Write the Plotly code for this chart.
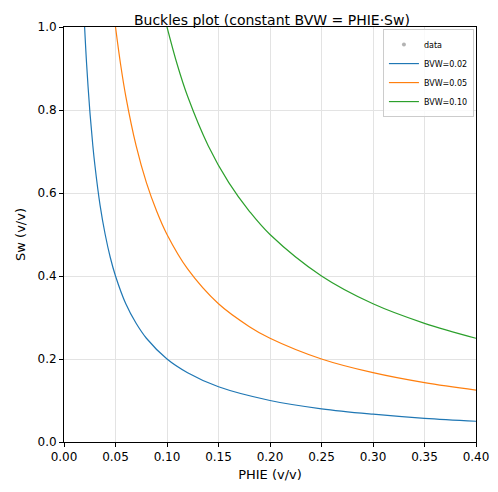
import plotly.graph_objects as go

# Values
phie_002 = [0.020, 0.022, 0.025, 0.028, 0.030, 0.035, 0.040, 0.045, 0.050, 0.060, 0.070, 0.080, 0.100, 0.120, 0.150, 0.200, 0.250, 0.300, 0.350, 0.400]
sw_002 = [1.000, 0.909, 0.800, 0.714, 0.667, 0.571, 0.500, 0.444, 0.400, 0.333, 0.286, 0.250, 0.200, 0.167, 0.133, 0.100, 0.080, 0.067, 0.057, 0.050]

phie_005 = [0.050, 0.055, 0.060, 0.070, 0.080, 0.090, 0.100, 0.120, 0.150, 0.180, 0.200, 0.250, 0.300, 0.350, 0.400]
sw_005 = [1.000, 0.909, 0.833, 0.714, 0.625, 0.556, 0.500, 0.417, 0.333, 0.278, 0.250, 0.200, 0.167, 0.143, 0.125]

phie_010 = [0.100, 0.110, 0.120, 0.140, 0.160, 0.180, 0.200, 0.250, 0.300, 0.350, 0.400]
sw_010 = [1.000, 0.909, 0.833, 0.714, 0.625, 0.556, 0.500, 0.400, 0.333, 0.286, 0.250]

x_ticks = [0.0, 0.05, 0.10, 0.15, 0.20, 0.25, 0.30, 0.35, 0.40]
x_labels = ["0.00", "0.05", "0.10", "0.15", "0.20", "0.25", "0.30", "0.35", "0.40"]
y_ticks = [0.0, 0.2, 0.4, 0.6, 0.8, 1.0]

fig = go.Figure()
fig.add_trace(go.Scatter(x=[None], y=[None], mode="markers", name="data",
                         marker=dict(color="grey", size=4, opacity=0.6)))
for name, x, y, c in [("BVW=0.02", phie_002, sw_002, "#1f77b4"),
                      ("BVW=0.05", phie_005, sw_005, "#ff7f0e"),
                      ("BVW=0.10", phie_010, sw_010, "#2ca02c")]:
    fig.add_trace(go.Scatter(x=x, y=y, mode="lines", name=name,
                             line=dict(color=c, width=1.2, shape="spline")))

axis_style = dict(showline=True, linecolor="black", linewidth=1, mirror=True,
                  ticks="outside", ticklen=4, tickcolor="black",
                  showgrid=True, gridcolor="#e3e3e3", zeroline=False,
                  tickfont=dict(size=12, color="black"))
fig.update_xaxes(range=[0, 0.4], tickvals=x_ticks, ticktext=x_labels,
                 title=dict(text="PHIE (v/v)", font=dict(size=13), standoff=6), **axis_style)
fig.update_yaxes(range=[0, 1], tickvals=y_ticks, ticktext=["0.0", "0.2", "0.4", "0.6", "0.8", "1.0"],
                 title=dict(text="Sw (v/v)", font=dict(size=13), standoff=8), **axis_style)
fig.update_layout(width=498, height=492, plot_bgcolor="white", paper_bgcolor="white",
                  font=dict(family="DejaVu Sans", color="black"),
                  title=dict(text="Buckles plot (constant BVW = PHIE·Sw)", x=0.53, y=0.985,
                             xanchor="center", font=dict(size=14)),
                  margin=dict(l=50, r=30, t=19, b=58),
                  legend=dict(x=0.995, y=0.995, xanchor="right", yanchor="top",
                              bgcolor="rgba(255,255,255,0.8)", bordercolor="#cccccc",
                              borderwidth=1, font=dict(size=8), itemwidth=30,
                              tracegroupgap=0))
fig.write_html("out.html")
